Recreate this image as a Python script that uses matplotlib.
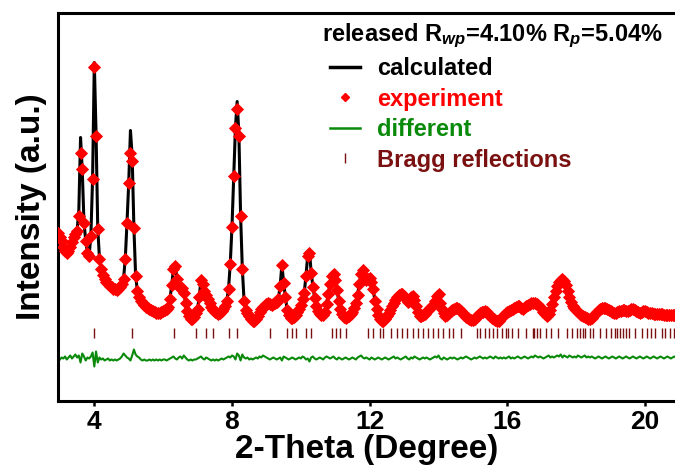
import numpy as np
import matplotlib
matplotlib.use("Agg")
import matplotlib.pyplot as plt
from matplotlib.lines import Line2D

# ---- Rietveld refinement data (step 0.05 deg, 2.95 - 20.90 deg) ----
two_theta = np.round(np.arange(2.95, 20.90 + 1e-6, 0.05), 2)

observed = np.array([
    168, 164, 160, 154, 150, 148, 150, 154, 159, 164,
    167, 170, 185, 248, 232, 178, 160, 148, 145, 165,
    222, 334, 265, 172, 142, 132, 126, 122, 119, 117,
    115, 114, 112, 112, 111, 112, 114, 117, 122, 142,
    178, 218, 248, 240, 173, 125, 110, 104, 100, 98,
    96, 94, 93, 92, 91, 90, 89, 88, 88, 88,
    89, 90, 91, 92, 94, 102, 116, 132, 135, 122,
    115, 113, 113, 108, 98, 90, 85, 82, 82, 84,
    88, 92, 104, 121, 117, 110, 106, 102, 98, 94,
    91, 89, 88, 87, 88, 90, 92, 95, 100, 112,
    137, 174, 225, 273, 292, 265, 185, 132, 100, 91,
    88, 85, 82, 80, 80, 82, 85, 89, 92, 94,
    95, 97, 98, 97, 96, 97, 98, 99, 102, 115,
    136, 118, 104, 91, 86, 83, 83, 84, 86, 89,
    92, 96, 102, 108, 125, 145, 148, 128, 114, 103,
    95, 90, 87, 86, 86, 89, 97, 107, 117, 125,
    127, 121, 111, 100, 92, 87, 84, 83, 84, 85,
    87, 89, 93, 98, 106, 117, 127, 131, 124, 121,
    122, 123, 119, 112, 100, 92, 86, 82, 80, 80,
    82, 85, 88, 91, 95, 98, 101, 104, 106, 107,
    107, 105, 102, 99, 100, 104, 105, 101, 95, 89,
    85, 85, 86, 87, 89, 91, 93, 95, 96, 100,
    105, 107, 98, 92, 88, 85, 86, 88, 90, 91,
    92, 93, 93, 92, 90, 88, 86, 84, 83, 82,
    81, 81, 82, 84, 86, 88, 89, 89, 90, 89,
    87, 85, 83, 82, 81, 80, 80, 82, 84, 86,
    88, 89, 90, 91, 92, 93, 94, 95, 95, 93,
    92, 94, 95, 96, 97, 98, 98, 98, 97, 96,
    94, 92, 89, 87, 85, 87, 91, 97, 104, 110,
    115, 119, 121, 122, 120, 116, 110, 104, 99, 95,
    93, 91, 89, 87, 86, 85, 84, 83, 82, 82,
    83, 85, 87, 89, 91, 92, 93, 93, 93, 92,
    91, 90, 89, 88, 88, 89, 90, 90, 91, 91,
    90, 90, 91, 92, 92, 91, 90, 89, 88, 89,
    90, 90, 89, 88, 88, 88, 87, 87, 87, 87,
    87, 87, 86, 86, 86, 86, 86, 86, 86, 86,
])

calculated = np.array([
    168, 164, 160, 154, 150, 148, 150, 154, 159, 164,
    167, 170, 190, 263, 230, 178, 160, 148, 145, 165,
    222, 338, 268, 172, 142, 132, 126, 122, 119, 117,
    115, 114, 112, 112, 111, 112, 114, 117, 122, 142,
    178, 218, 270, 244, 173, 125, 110, 104, 100, 98,
    96, 94, 93, 92, 91, 90, 89, 88, 88, 88,
    89, 90, 91, 92, 94, 102, 116, 132, 135, 122,
    115, 113, 113, 108, 98, 90, 85, 82, 82, 84,
    88, 92, 104, 121, 117, 110, 106, 102, 98, 94,
    91, 89, 88, 87, 88, 90, 92, 95, 100, 112,
    137, 174, 225, 273, 299, 267, 185, 132, 100, 91,
    88, 85, 82, 80, 80, 82, 85, 89, 92, 94,
    95, 97, 98, 97, 96, 97, 98, 99, 102, 115,
    136, 118, 104, 91, 86, 83, 83, 84, 86, 89,
    92, 96, 102, 108, 125, 145, 150, 128, 114, 103,
    95, 90, 87, 86, 86, 89, 97, 107, 117, 125,
    127, 121, 111, 100, 92, 87, 84, 83, 84, 85,
    87, 89, 93, 98, 106, 117, 127, 131, 124, 121,
    122, 123, 119, 112, 100, 92, 86, 82, 80, 80,
    82, 85, 88, 91, 95, 98, 101, 104, 106, 107,
    107, 105, 102, 99, 100, 104, 105, 101, 95, 89,
    85, 85, 86, 87, 89, 91, 93, 95, 96, 100,
    103, 100, 98, 92, 88, 85, 86, 88, 90, 91,
    92, 93, 93, 92, 90, 88, 86, 84, 83, 82,
    81, 81, 82, 84, 86, 88, 89, 89, 90, 89,
    87, 85, 83, 82, 81, 80, 80, 82, 84, 86,
    88, 89, 90, 91, 92, 93, 94, 95, 95, 93,
    92, 94, 95, 96, 97, 98, 98, 98, 97, 96,
    94, 92, 89, 87, 85, 87, 91, 97, 104, 110,
    115, 119, 121, 122, 120, 116, 110, 104, 99, 95,
    93, 91, 89, 87, 86, 85, 84, 83, 82, 82,
    83, 85, 87, 89, 91, 92, 93, 93, 93, 92,
    91, 90, 89, 88, 88, 89, 90, 90, 91, 91,
    90, 90, 91, 92, 92, 91, 90, 89, 88, 89,
    90, 90, 89, 88, 88, 88, 87, 87, 87, 87,
    87, 87, 86, 86, 86, 86, 86, 86, 86, 86,
])

# observed - calculated residual
difference = np.array([
    -3, -1, 1, 0, 2, -1, 1, 3, 0, 2,
    4, 1, 3, -4, 5, 2, -2, 1, 0, 2,
    6, -8, 7, -4, 1, -1, 0, -2, -1, 0,
    -2, -1, -2, -1, -2, -1, 0, 2, 5, 3,
    1, 0, -2, 3, 9, 4, 2, 1, -1, -2,
    -1, -2, -2, -1, -2, -1, -2, -1, -2, -1,
    -2, -1, -1, -2, -1, 0, 1, 2, 0, -1,
    1, 2, 0, 3, 1, -1, -2, -1, -2, -1,
    -1, 0, 1, 2, 0, -1, 1, 0, -1, -2,
    -1, -2, -1, -2, -1, 0, -1, 0, 1, 2,
    1, 3, 2, -1, 5, 3, -2, 4, 1, 0,
    1, -1, 0, -1, 0, 1, 0, 2, 1, 3,
    2, 1, 0, -1, 0, 1, 0, -1, 0, 1,
    -2, 2, 1, 0, -1, 0, 1, 0, -1, 0,
    1, 0, 2, 1, -1, 0, -3, 1, 2, 0,
    -1, 0, 1, 0, -1, 1, 2, 1, 0, 1,
    2, 0, -1, 1, 0, -1, 0, 1, 0, -1,
    0, 1, 0, -1, 1, 2, 3, 1, 0, 1,
    0, -1, 1, 0, -1, 0, 1, 0, -1, 0,
    1, 0, -1, 0, 1, 2, 0, 1, 0, -1,
    0, 1, 2, 0, -1, 1, 0, 2, 1, 0,
    -1, 0, 1, 0, 1, 0, -1, 0, 1, 2,
    1, 3, 0, -1, 1, 0, -1, 0, 1, 0,
    1, 0, -1, 0, 1, 0, 1, 2, 1, 0,
    -1, 0, 1, 0, 1, 2, 1, 0, 1, 0,
    1, 2, 1, 0, 2, 1, 0, 1, 0, 1,
    0, 1, 2, 0, 1, 0, 1, 2, 1, 0,
    1, 2, 1, 0, 1, 2, 1, 3, 2, 1,
    2, 1, 0, 1, 2, 3, 1, 2, 1, 2,
    3, 2, 4, 1, 3, 2, 1, 3, 2, 1,
    2, 1, 3, 2, 1, 2, 3, 1, 2, 1,
    2, 1, 0, 1, 2, 1, 0, 1, 2, 1,
    0, 1, 2, 1, 0, 1, 2, 1, 0, 1,
    2, 1, 0, 1, 2, 1, 0, 1, 2, 1,
    0, 1, 2, 1, 0, 1, 2, 1, 0, 1,
    2, 1, 0, 1, 2, 1, 0, 1, 2, 1,
])

bragg_positions = np.array([
    4.00, 5.09, 6.32, 6.94, 7.24, 7.46, 7.92, 8.15, 9.09, 9.60,
    9.73, 9.87, 10.15, 10.30, 10.90, 11.01, 11.14, 11.32, 11.96, 12.11,
    12.30, 12.40, 12.62, 12.80, 12.94, 13.08, 13.26, 13.40, 13.54, 13.69,
    13.84, 13.99, 14.14, 14.31, 14.41, 14.64, 15.13, 15.21, 15.35, 15.48,
    15.59, 15.71, 15.84, 15.96, 16.03, 16.13, 16.30, 16.54, 16.74, 16.77,
    16.85, 16.95, 17.12, 17.26, 17.48, 17.72, 17.87, 18.01, 18.11, 18.19,
    18.26, 18.40, 18.50, 18.69, 18.87, 19.00, 19.13, 19.18, 19.27, 19.35,
    19.45, 19.54, 19.71, 19.90, 20.05, 20.16, 20.29, 20.48, 20.58, 20.73,
    20.84,
])

series_labels = ["calculated", "experiment", "different", "Bragg reflections"]
fit_title = r"released R$_{wp}$=4.10% R$_{p}$=5.04%"

# vertical placement of the difference curve and reflection markers
diff_offset = 42
bragg_level = 68

# ---- styling ----
plt.rcParams["font.family"] = "Liberation Sans"
plt.rcParams["font.weight"] = "bold"
plt.rcParams["mathtext.fontset"] = "custom"
plt.rcParams["mathtext.rm"] = "Liberation Sans:bold"
plt.rcParams["mathtext.it"] = "Liberation Sans:bold:italic"
plt.rcParams["mathtext.bf"] = "Liberation Sans:bold"

c_calc = "black"
c_obs = "#ff0000"
c_diff = "#0a8a0a"
c_bragg = "#7a1010"

fig = plt.figure(figsize=(6.75, 4.70), dpi=100)
ax = fig.add_axes([58 / 675, 69.5 / 470, 617 / 675, 388 / 470])

ax.plot(two_theta, calculated, color=c_calc, lw=2.2, zorder=2)
ax.plot(two_theta, observed, ls="none", marker="D", ms=5.8, color=c_obs,
        mec=c_obs, mew=0.6, zorder=3)
ax.plot(two_theta, difference + diff_offset, color=c_diff, lw=1.5, zorder=2)
ax.plot(bragg_positions, np.full_like(bragg_positions, bragg_level),
        ls="none", marker="|", ms=7, mew=1.0, color=c_bragg, zorder=2)

ax.set_xlim(2.945, 2.945 + 617 / 34.42)
ax.set_ylim(0, 388)
ax.set_xticks([4, 8, 12, 16, 20])
ax.set_yticks([])
ax.spines["right"].set_visible(False)
for s in ("left", "top", "bottom"):
    ax.spines[s].set_linewidth(2.2)
ax.tick_params(axis="x", direction="out", length=3.5, width=1.8,
               labelsize=19, pad=3)

ax.set_xlabel("2-Theta (Degree)", fontsize=24, fontweight="bold", labelpad=0)
ax.set_ylabel("Intensity (a.u.)", fontsize=24, fontweight="bold", labelpad=8)

# refinement quality header
fig.text(322 / 675, 1 - 41 / 470, fit_title, fontsize=17, fontweight="bold",
         ha="left", va="baseline")

handles = [
    Line2D([], [], color=c_calc, lw=2.5),
    Line2D([], [], ls="none", marker="D", ms=4.5, color=c_obs),
    Line2D([], [], color=c_diff, lw=1.8),
    Line2D([], [], ls="none", marker="|", ms=7, mew=1.0, color=c_bragg),
]
leg = ax.legend(handles, series_labels,
                loc="upper left", bbox_to_anchor=(330 / 675, 1 - 57 / 470),
                bbox_transform=fig.transFigure, frameon=False,
                prop={"size": 17, "weight": "bold"},
                handlelength=1.27, handletextpad=0.72,
                labelspacing=0.32, borderpad=0, borderaxespad=0)
for txt, col in zip(leg.get_texts(), [c_calc, c_obs, c_diff, c_bragg]):
    txt.set_color(col)

fig.savefig("out.png", dpi=100)
